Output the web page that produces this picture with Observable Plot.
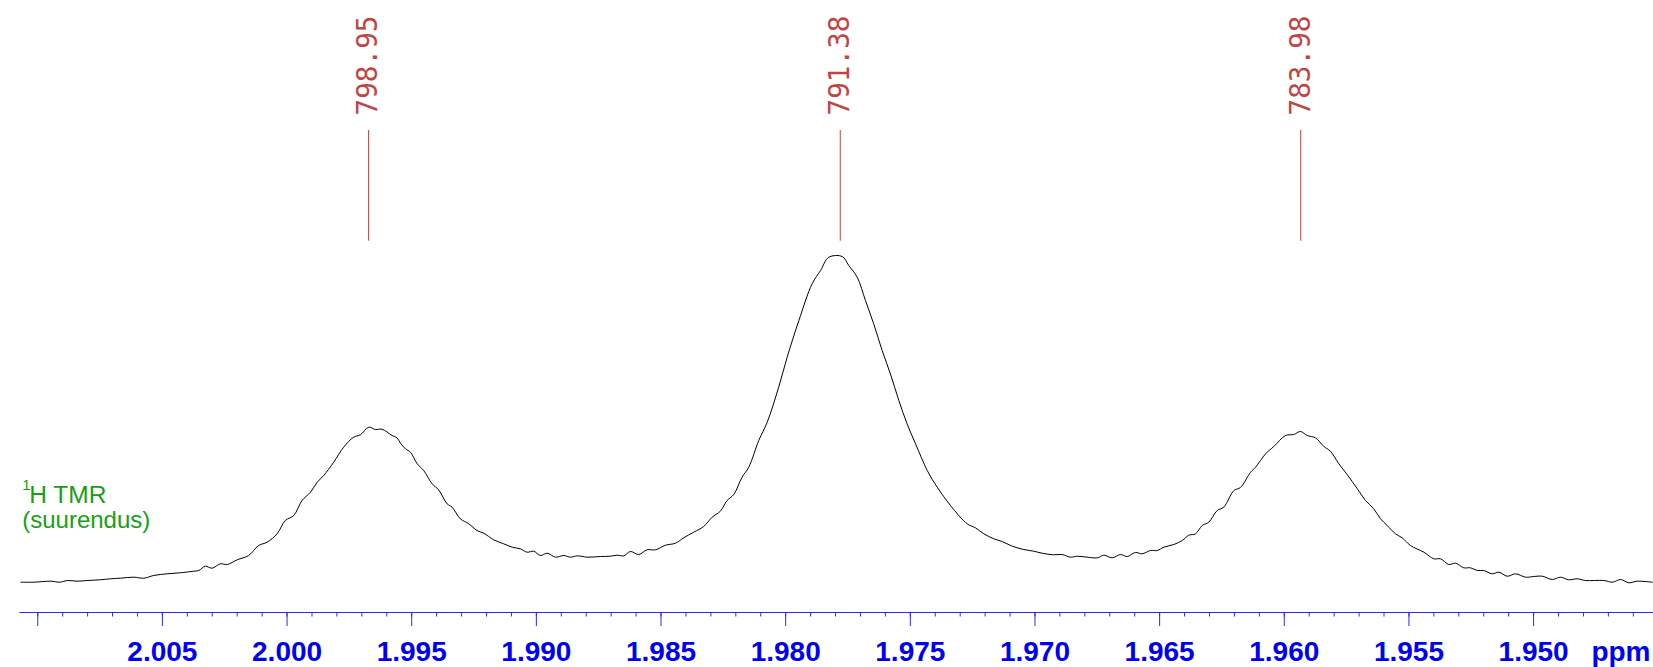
<!DOCTYPE html>
<html>
<head>
<meta charset="utf-8">
<script src="https://cdn.jsdelivr.net/npm/d3@7"></script>
<script src="https://cdn.jsdelivr.net/npm/@observablehq/plot@0.6"></script>
<style>
  html, body { margin: 0; padding: 0; background: #fff; }
  svg { display: block; }
</style>
</head>
<body>
<script>
// Spectrum trace: chemical shift (ppm) and relative intensity (central peak = 100)
const shiftPpm = [2.01067,2.01016,2.00949,2.00909,2.00882,2.00842,2.00802,2.00749,2.00709,2.00668,2.00615,2.00575,2.00535,2.00481,2.00428,2.00374,2.00354,2.00328,2.00301,2.00267,2.00240,2.00200,2.00154,2.00114,2.00080,2.00040,2.00007,1.99973,1.99940,1.99906,1.99879,1.99853,1.99813,1.99773,1.99733,1.99706,1.99672,1.99646,1.99619,1.99579,1.99559,1.99545,1.99525,1.99505,1.99478,1.99452,1.99418,1.99392,1.99358,1.99338,1.99305,1.99271,1.99238,1.99211,1.99171,1.99131,1.99097,1.99064,1.99037,1.99011,1.98984,1.98957,1.98923,1.98890,1.98863,1.98836,1.98796,1.98743,1.98703,1.98676,1.98649,1.98623,1.98589,1.98556,1.98522,1.98482,1.98442,1.98409,1.98369,1.98329,1.98295,1.98262,1.98235,1.98208,1.98175,1.98148,1.98108,1.98074,1.98028,1.97994,1.97947,1.97894,1.97860,1.97827,1.97773,1.97747,1.97713,1.97680,1.97647,1.97613,1.97580,1.97546,1.97513,1.97479,1.97432,1.97392,1.97339,1.97272,1.97239,1.97205,1.97165,1.97132,1.97091,1.97045,1.97005,1.96971,1.96925,1.96891,1.96858,1.96831,1.96791,1.96750,1.96724,1.96690,1.96657,1.96630,1.96597,1.96570,1.96537,1.96510,1.96483,1.96443,1.96409,1.96383,1.96356,1.96329,1.96303,1.96269,1.96243,1.96202,1.96176,1.96135,1.96115,1.96075,1.96042,1.95995,1.95962,1.95935,1.95908,1.95875,1.95841,1.95815,1.95781,1.95748,1.95707,1.95674,1.95641,1.95614,1.95587,1.95554,1.95527,1.95494,1.95440,1.95400,1.95373,1.95340,1.95313,1.95280,1.95253,1.95226,1.95200,1.95166,1.95139,1.95106,1.95072,1.95032,1.94999,1.94965,1.94925,1.94892,1.94859,1.94825,1.94792,1.94718,1.94684,1.94651,1.94618,1.94584,1.94524];
const intensity = [0,0,0.31,0,0.52,0.31,0.52,0.74,1.04,1.23,1.54,1.23,2.06,2.58,2.89,3.38,3.59,4.91,4.30,5.65,5.43,6.88,8.20,11.27,12.28,14.86,18.94,20.48,25.08,27.63,30.70,32.76,36.84,41.45,44.52,45.25,47.59,46.88,46.97,45.04,44.33,42.68,40.96,39.91,36.35,34.29,30.21,28.37,24.07,23.03,19.47,17.93,15.87,15.04,13.02,11.79,10.75,10.25,9.21,9.52,8.20,8.90,7.68,8.20,7.68,8.10,7.68,7.89,7.98,8.29,8.10,9.43,8.50,9.95,9.95,11.36,11.97,13.63,15.35,17.10,19.96,21.80,25.08,26.93,32.24,35.31,43.51,49.12,59.87,69.08,80.35,91.62,95.70,99.78,100,97.24,93.64,86.49,79.34,71.14,63.98,55.79,48.63,42.49,34.29,29.17,23.55,17.93,16.70,14.86,13.32,12.50,11.05,10.04,9.52,8.90,8.41,8.50,7.68,7.98,7.68,7.49,8.29,7.49,8.50,7.89,9.12,8.72,9.73,9.73,10.75,11.57,12.80,14.43,14.86,17.41,18.42,22.01,23.03,28.15,29.07,33.77,35.31,39.42,41.66,45.04,45.35,46.27,45.04,44.33,41.66,40.22,36.35,33.07,28.68,25.08,22.54,19.47,17.41,14.86,13.63,11.27,9.21,7.18,7.18,5.43,5.83,4.42,4.42,3.59,3.59,2.58,3.07,1.84,2.58,1.54,1.75,1.84,0.83,1.54,0.74,1.04,0.52,0.52,0,0.83,-0.18,0.31,0];

// Peak picking labels (Hz) and their positions (ppm)
const peakLabels = ["798.95", "791.38", "783.98"];
const peakPpm = [1.99673, 1.97781, 1.95934];

// Axis ticks
const majorTicks = [2.010, 2.005, 2.000, 1.995, 1.990, 1.985, 1.980, 1.975, 1.970, 1.965, 1.960, 1.955, 1.950];
const majorLabels = ["", "2.005", "2.000", "1.995", "1.990", "1.985", "1.980", "1.975", "1.970", "1.965", "1.960", "1.955", "1.950"];
const minorTicks = d3.range(0, 65).map(i => +(2.010 - i * 0.001).toFixed(3));

const axisUnit = "ppm";
const titleSup = "1";
const titleMain = "H TMR";
const titleSub = "(suurendus)";
const xDomain = [2.01072, 1.94519];

const spectrum = shiftPpm.map((p, i) => ({ppm: p, value: intensity[i]}));
const peaks = peakPpm.map((p, i) => ({ppm: p, label: peakLabels[i]}));
const labelOf = new Map(majorTicks.map((t, i) => [t, majorLabels[i]]));

const W = 1653, H = 667, MB = 55, ML = 19.3;
const blue = "#0000f0";
const red = "#c04444";
const green = "#15a015";
const sans = "'Liberation Sans', Arial, Helvetica, sans-serif";

// axis base line drawn as a function mark using the plot dimensions
const baseLine = (index, scales, values, dims) => {
  const g = d3.create("svg:line")
    .attr("x1", dims.marginLeft)
    .attr("x2", dims.width - dims.marginRight)
    .attr("y1", dims.height - dims.marginBottom + 0.5)
    .attr("y2", dims.height - dims.marginBottom + 0.5)
    .attr("stroke", "#2a2aff")
    .attr("stroke-width", 1.2);
  return g.node();
};

const chart = Plot.plot({
  width: W,
  height: H,
  marginTop: 0,
  marginBottom: MB,
  marginLeft: ML,
  marginRight: 0,
  style: {fontFamily: sans, background: "#fff"},
  x: {domain: xDomain},
  y: {domain: [0, 100], range: [581.7, 256], axis: null},
  marks: [
    baseLine,
    Plot.axisX(minorTicks, {
      tickSize: 4.5, tickFormat: () => "", stroke: "#2a2aff", strokeWidth: 1, label: null
    }),
    Plot.axisX(majorTicks, {
      tickSize: 14, tickPadding: 15, tickFormat: d => labelOf.get(d),
      stroke: "#2a2aff", fill: blue, strokeWidth: 1,
      fontSize: 28, fontWeight: "bold", fontFamily: sans, label: null
    }),
    Plot.text([axisUnit], {
      frameAnchor: "bottom-right", dx: -3, dy: 29, lineAnchor: "top", textAnchor: "end",
      fill: blue, fontSize: 28, fontWeight: "bold", fontFamily: sans
    }),
    Plot.line(spectrum, {x: "ppm", y: "value", stroke: "#000", strokeWidth: 1, curve: "catmull-rom"}),
    Plot.ruleX(peaks, {x: "ppm", insetTop: 130, insetBottom: 371.3, stroke: red, strokeWidth: 1}),
    Plot.text(peaks, {
      x: "ppm", text: "label", frameAnchor: "top", dy: 115, rotate: -90,
      textAnchor: "start", lineAnchor: "middle",
      fill: red, fontSize: 27.7, fontFamily: "'DejaVu Sans Mono', monospace"
    }),
    Plot.text([titleSup], {
      frameAnchor: "top-left", dx: 2.5, dy: 479, lineAnchor: "top", textAnchor: "start",
      fill: green, fontSize: 15, fontFamily: sans
    }),
    Plot.text([titleMain], {
      frameAnchor: "top-left", dx: 9.5, dy: 484.8, lineAnchor: "top", textAnchor: "start",
      fill: green, fontSize: 24.5, fontFamily: sans
    }),
    Plot.text([titleSub], {
      frameAnchor: "top-left", dx: 2.4, dy: 510.8, lineAnchor: "top", textAnchor: "start",
      fill: green, fontSize: 24, fontFamily: sans
    })
  ]
});

document.body.appendChild(chart);
</script>
</body>
</html>
